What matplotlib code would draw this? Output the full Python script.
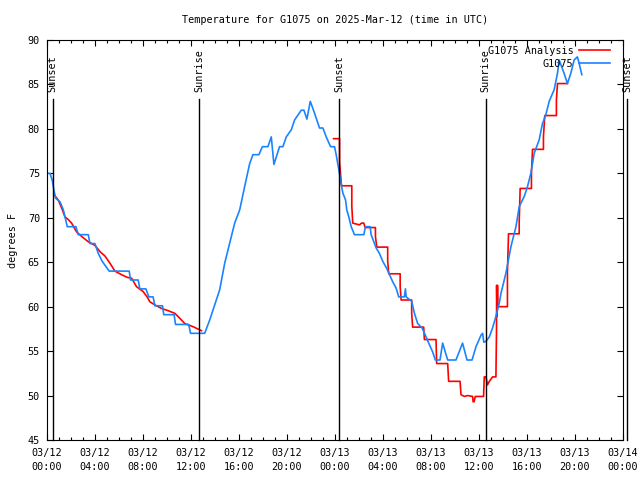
"""
Temperature chart for G1075, 2025-Mar-12 (gnuplot-like look).
"""

from datetime import datetime, timedelta

import matplotlib
matplotlib.use("Agg")
import matplotlib.pyplot as plt
import matplotlib.dates as mdates

START = datetime(2025, 3, 12, 0, 0)
END = datetime(2025, 3, 14, 0, 0)

# observed G1075 (hours since 03/12 00:00 UTC, degrees F)
obs_hours = [
    0.00, 0.25, 0.44, 0.58, 0.72, 1.08, 1.36, 1.50, 1.69, 2.41, 2.60, 3.44,
    3.58, 3.99, 4.27, 4.60, 5.18, 6.85, 6.96, 7.60, 7.74, 8.24, 8.49, 8.84,
    8.99, 9.63, 9.73, 10.59, 10.71, 11.81, 11.96, 13.14, 13.56, 14.39, 14.81,
    15.22, 15.64, 16.06, 16.47, 16.89, 17.16, 17.66, 17.95, 18.41, 18.69,
    18.91, 19.38, 19.66, 19.94, 20.36, 20.63, 21.19, 21.41, 21.66, 21.94,
    22.30, 22.71, 22.99, 23.27, 23.63, 23.96, 24.10, 24.23, 24.38, 24.52,
    24.65, 24.88, 24.98, 25.15, 25.35, 25.62, 26.40, 26.54, 26.93, 27.01,
    27.23, 27.43, 27.70, 27.98, 28.31, 28.54, 28.81, 29.09, 29.31, 29.78,
    29.87, 29.93, 30.39, 30.62, 30.89, 31.26, 31.59, 31.81, 32.14, 32.36,
    32.75, 32.97, 33.39, 34.08, 34.63, 35.00, 35.42, 35.75, 36.17, 36.30,
    36.40, 36.58, 36.86, 37.13, 37.41, 37.69, 37.83, 38.24, 38.66, 39.08,
    39.35, 39.77, 40.04, 40.32, 40.60, 41.01, 41.29, 41.57, 41.85, 42.26,
    42.54, 42.68, 43.09, 43.37, 43.65, 43.93, 44.20, 44.34, 44.57,
]
obs_temps = [
    75.0, 75.0, 74.2, 73.1, 72.2, 71.8, 70.9, 70.1, 69.0, 69.0, 68.1, 68.1,
    67.1, 67.1, 66.0, 65.1, 64.0, 64.0, 63.0, 63.0, 62.0, 62.0, 61.1, 61.1,
    60.1, 60.1, 59.1, 59.1, 58.0, 58.0, 57.0, 57.0, 58.5, 61.9, 64.9,
    67.1, 69.4, 70.9, 73.5, 76.1, 77.1, 77.1, 78.0, 78.0, 79.1,
    76.0, 78.0, 78.0, 79.1, 79.9, 81.0, 82.1, 82.1, 81.1, 83.1,
    81.75, 80.1, 80.1, 79.1, 78.0, 78.0, 77.1, 76.1, 75.0, 73.9,
    72.8, 72.0, 70.9, 70.1, 69.0, 68.1, 68.1, 69.0, 69.0, 68.1,
    67.3, 66.6, 66.0, 65.1, 64.3, 63.6, 62.8, 62.1, 61.1, 61.1,
    62.0, 61.1, 60.6, 59.25, 58.1, 57.6, 56.6, 55.9, 54.9, 54.0,
    54.0, 55.9, 54.0, 54.0, 55.9, 54.0, 54.0, 55.5, 56.8, 57.0,
    56.0, 56.1, 56.6, 57.6, 58.9, 60.4, 61.5, 63.75, 66.75, 69.0,
    71.25, 72.4, 73.5, 75.0, 77.25, 78.75, 80.6, 81.6, 83.1, 84.4,
    86.25, 87.75, 86.25, 85.1, 86.25, 87.75, 88.1, 87.4, 86.1,
]

# analysis, first night
ana1_hours = [
    0.58, 0.94, 1.22, 1.50, 1.77, 2.05, 2.47, 2.89, 3.44, 3.99, 4.41, 4.83,
    5.24, 5.66, 6.21, 6.68, 7.05, 7.46, 8.01, 8.34, 8.57, 8.99, 9.54, 10.09,
    10.65, 11.06, 11.48, 12.17, 12.87,
]
ana1_temps = [
    72.6, 72.0, 71.1, 70.1, 69.8, 69.4, 68.4, 67.9, 67.3, 66.9, 66.2, 65.7,
    64.9, 64.0, 63.6, 63.3, 63.2, 62.25, 61.7, 61.1, 60.55, 60.2, 59.8, 59.55,
    59.25, 58.7, 58.1, 57.75, 57.3,
]

# analysis, second night
ana2_hours = [
    23.88, 24.38, 24.38, 24.54, 25.40, 25.40, 25.48, 26.04, 26.21, 26.40,
    26.51, 27.37, 27.37, 27.48, 28.39, 28.39, 28.48, 29.43, 29.43, 29.51,
    30.39, 30.39, 30.47, 31.39, 31.45, 32.42, 32.47, 33.39, 33.47, 34.42,
    34.50, 34.78, 35.03, 35.47, 35.51, 35.59, 35.69, 36.38, 36.44, 36.58,
    36.71, 36.86, 37.13, 37.41, 37.46, 37.47, 37.50, 37.54, 37.58, 38.37,
    38.37, 38.46, 39.35, 39.35, 39.43, 40.37, 40.37, 40.46, 41.37, 41.37,
    41.48, 42.45, 42.45, 42.54, 43.37,
]
ana2_temps = [
    78.9, 78.9, 76.3, 73.6, 73.6, 71.3, 69.4, 69.2, 69.4, 69.4,
    68.9, 68.9, 67.9, 66.7, 66.7, 65.1, 63.7, 63.7, 62.25, 60.75,
    60.75, 59.25, 57.7, 57.7, 56.3, 56.3, 53.6, 53.6, 51.6, 51.6,
    50.1, 49.9, 50.0, 49.9, 49.3, 49.3, 49.9, 49.9, 52.1, 52.1,
    51.2, 51.6, 52.1, 52.1, 57.4, 62.4, 58.9, 62.4, 60.0, 60.0,
    63.9, 68.2, 68.2, 69.6, 73.3, 73.3, 75.0, 77.7, 77.7, 79.1,
    81.5, 81.5, 83.25, 85.1, 85.1,
]

# sun events (hours since start)
sun_hours = [0.47, 12.70, 24.35, 36.55, 48.33]
sun_labels = ["Sunset", "Sunrise", "Sunset", "Sunrise", "Sunset"]


def _t(hours):
    return [START + timedelta(hours=h) for h in hours]


FONT = "DejaVu Sans Mono"
FS = 7.3
RED = "#ff0000"
BLUE = "#1a84ff"

plt.rcParams["font.family"] = FONT
plt.rcParams["font.size"] = FS

fig = plt.figure(figsize=(6.4, 4.8), dpi=100)
ax = fig.add_axes([47 / 640, 40 / 480, 576 / 640, 400 / 480])

ax.plot(_t(ana1_hours), ana1_temps, color=RED, lw=1.2, label="G1075 Analysis")
ax.plot(_t(ana2_hours), ana2_temps, color=RED, lw=1.2)
ax.plot(_t(obs_hours), obs_temps, color=BLUE, lw=1.2, label="G1075")

for h, lab in zip(sun_hours, sun_labels):
    t = START + timedelta(hours=h)
    ax.plot([t, t], [45, 83.4], color="black", lw=1.0, clip_on=False)
    ax.text(t, 84.2, lab, rotation=90, ha="center", va="bottom", fontsize=FS)

ax.set_xlim(START, END)
ax.set_ylim(45, 90)
ax.set_yticks(range(45, 91, 5))
ax.xaxis.set_major_locator(mdates.HourLocator(byhour=range(0, 24, 4)))
ax.xaxis.set_minor_locator(mdates.HourLocator())
ax.xaxis.set_major_formatter(mdates.DateFormatter("%m/%d\n%H:%M"))

ax.tick_params(which="both", direction="in", top=True, right=True, width=0.8)
ax.tick_params(which="major", length=4, pad=5)
ax.tick_params(axis="x", which="major", pad=6)
ax.tick_params(which="minor", length=2)
for lbl in ax.get_xticklabels():
    lbl.set_linespacing(1.45)
for s in ax.spines.values():
    s.set_linewidth(0.8)

ax.set_title("Temperature for G1075 on 2025-Mar-12 (time in UTC)", fontsize=FS, pad=12)
ax.set_ylabel("degrees F", fontsize=FS, labelpad=7)

ax.legend(loc="upper right", bbox_to_anchor=(0.977, 0.985), frameon=False,
          markerfirst=False, handlelength=3.0, handletextpad=0.6,
          labelspacing=0.3, borderaxespad=0, borderpad=0, fontsize=FS)

plt.savefig("out.png", dpi=100)
plt.close()
